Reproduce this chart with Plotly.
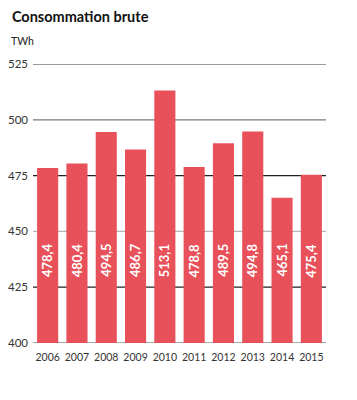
import plotly.graph_objects as go

years = ["2006", "2007", "2008", "2009", "2010", "2011", "2012", "2013", "2014", "2015"]
values = [478.4, 480.4, 494.5, 486.7, 513.1, 478.8, 489.5, 494.8, 465.1, 475.4]
tick_vals = [400, 425, 450, 475, 500, 525]
grid_colors = ["#8a8a8a", "#222222", "#b5b5b5", "#222222", "#7a7a7a", "#7a7a7a"]
label_level = 437

fig = go.Figure()
fig.add_trace(go.Bar(x=years, y=values, marker=dict(color="#E8505A", line=dict(width=0)),
                     hoverinfo="skip"))

for v, c in zip(tick_vals, grid_colors):
    fig.add_shape(type="line", xref="paper", yref="y", x0=0, x1=1, y0=v, y1=v,
                  line=dict(color=c, width=1.3), layer="below")

for i, v in enumerate(values):
    fig.add_annotation(xref="x", yref="y", x=i, y=label_level,
                       text=f"{v:.1f}".replace(".", ","),
                       textangle=-90, showarrow=False,
                       font=dict(family="Lato", size=13, color="white", weight="bold"))

fig.update_layout(
    width=357, height=400,
    margin=dict(l=25, r=39, t=56, b=65, autoexpand=False),
    paper_bgcolor="white", plot_bgcolor="white",
    bargap=0.28,
    showlegend=False,
    title=dict(text="<b>Consommation brute</b>", x=0.011, xanchor="left", y=0.977, yanchor="middle",
               automargin=False,
               font=dict(family="Lato", size=14.5, color="#111")),
    xaxis=dict(type="category", categoryorder="array", categoryarray=years,
               range=[-0.5, len(years) - 0.5], autorange=False,
               showgrid=False, showline=False, ticks="", automargin=False, ticklabelstandoff=6,
               tickfont=dict(family="Lato", size=10.5, color="#333")),
    yaxis=dict(range=[400, 525], tickvals=tick_vals, showgrid=False, zeroline=False, showline=False,
               automargin=False,
               ticks="", ticklabelstandoff=4, tickfont=dict(family="Lato", size=11.5, color="#333")),
)
fig.add_annotation(xref="paper", yref="paper", x=-0.083, y=1.055, xanchor="left", yanchor="bottom",
                   text="TWh", showarrow=False, font=dict(family="Lato", size=10.5, color="#222"))

fig.write_html("out.html")
